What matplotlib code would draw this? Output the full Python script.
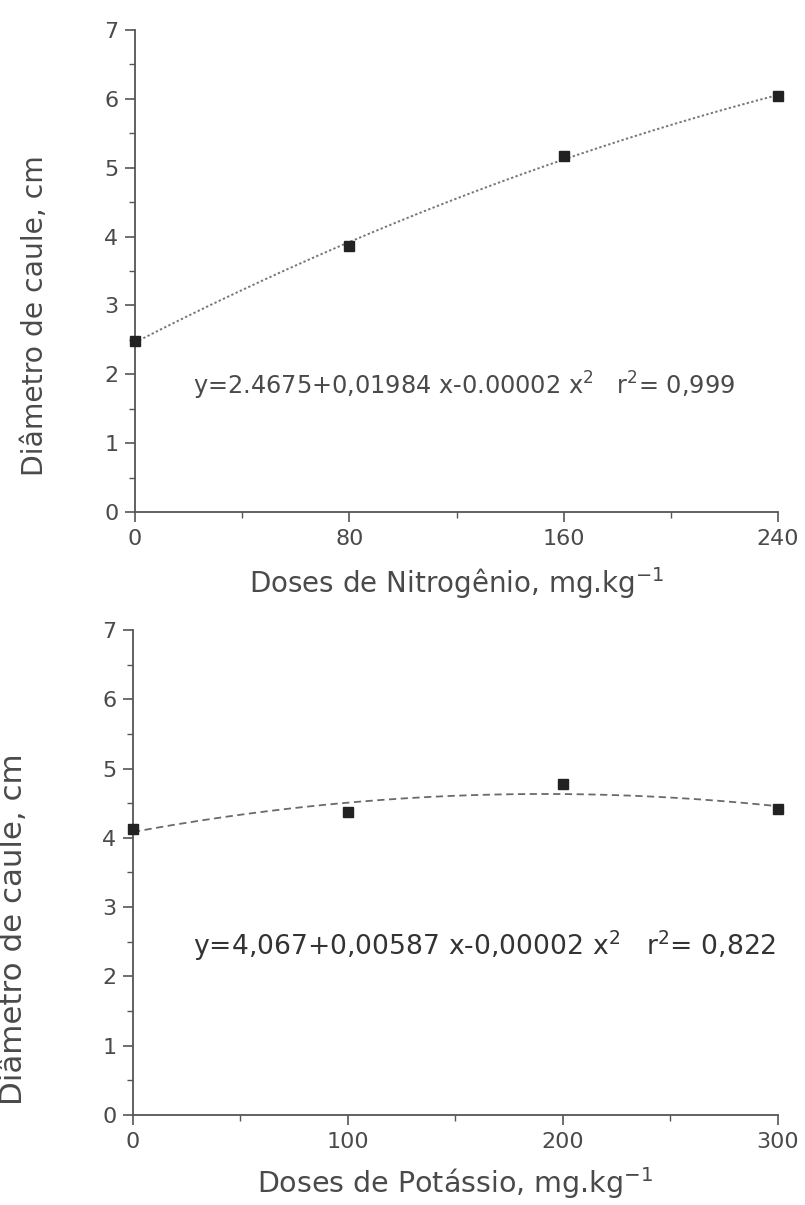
import matplotlib
matplotlib.use("Agg")
import matplotlib.pyplot as plt
from matplotlib.ticker import MultipleLocator
import numpy as np

# Nitrogen doses (top panel)
n_doses = [0, 80, 160, 240]
n_diam = [2.48, 3.87, 5.17, 6.04]
n_eq = "y=2.4675+0,01984 x-0.00002 x$^2$   r$^2$= 0,999"
n_xlabel = "Doses de Nitrogênio, mg.kg$^{-1}$"

# Potassium doses (bottom panel)
k_doses = [0, 100, 200, 300]
k_diam = [4.13, 4.37, 4.77, 4.41]
k_eq = "y=4,067+0,00587 x-0,00002 x$^2$   r$^2$= 0,822"
k_xlabel = "Doses de Potássio, mg.kg$^{-1}$"

ylabel = "Diâmetro de caule, cm"

axis_col = "#555555"
text_col = "#4a4a4a"

fig = plt.figure(figsize=(8.05, 12.05), dpi=100)
ax1 = fig.add_axes([0.1677, 0.5751, 0.7988, 0.4000])
ax2 = fig.add_axes([0.1652, 0.0747, 0.8012, 0.4025])


def style(ax, xmax, xmajor, tick_fs):
    ax.set_xlim(0, xmax)
    ax.set_ylim(0, 7)
    for s in ("top", "right"):
        ax.spines[s].set_visible(False)
    for s in ("left", "bottom"):
        ax.spines[s].set_color(axis_col)
        ax.spines[s].set_linewidth(1.3)
    ax.xaxis.set_major_locator(MultipleLocator(xmajor))
    ax.xaxis.set_minor_locator(MultipleLocator(xmajor / 2))
    ax.yaxis.set_major_locator(MultipleLocator(1))
    ax.yaxis.set_minor_locator(MultipleLocator(0.5))
    ax.tick_params(which="major", direction="out", length=7, width=1.2,
                   color=axis_col, labelcolor=text_col, labelsize=tick_fs, pad=5)
    ax.tick_params(which="minor", direction="out", length=4, width=1.0, color=axis_col)


# top panel
style(ax1, 240, 80, 16)
coef = np.polyfit(n_doses, n_diam, 2)
xs = np.linspace(0, 240, 200)
ax1.plot(xs, np.polyval(coef, xs), linestyle=(0, (1.2, 1.2)), color="#777777", lw=1.4)
ax1.plot(n_doses, n_diam, "s", color="#222222", markersize=6.5, clip_on=False, zorder=3)
ax1.text(21.6, 1.83, n_eq, fontsize=17.3, color=text_col, va="center", ha="left")
ax1.set_xlabel(n_xlabel, fontsize=20, color=text_col, labelpad=12)
ax1.set_ylabel(ylabel, fontsize=20.3, color=text_col, va="center")
ax1.yaxis.set_label_coords(-0.1555, 0.407)

# bottom panel
style(ax2, 300, 100, 16)
coef = np.polyfit(k_doses, k_diam, 2)
xs = np.linspace(0, 300, 200)
ax2.plot(xs, np.polyval(coef, xs), linestyle=(0, (4, 2.5)), color="#6a6a6a", lw=1.3)
ax2.plot(k_doses, k_diam, "s", color="#222222", markersize=6.5, clip_on=False, zorder=3)
ax2.text(28.0, 2.44, k_eq, fontsize=19.2, color="#333333", va="center", ha="left")
ax2.set_xlabel(k_xlabel, fontsize=20.5, color=text_col, labelpad=10)
ax2.set_ylabel(ylabel, fontsize=22.2, color=text_col, va="center")
ax2.yaxis.set_label_coords(-0.186, 0.384)

fig.savefig("out.png", dpi=100)
